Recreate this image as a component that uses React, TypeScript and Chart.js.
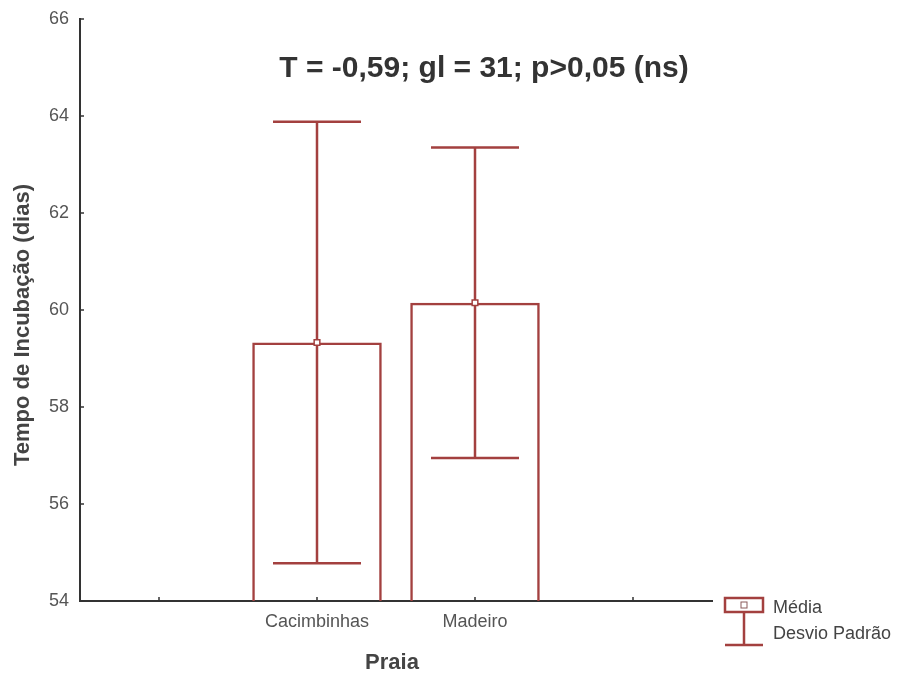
import { useEffect, useRef } from 'react';
import { Chart, registerables } from 'chart.js';
Chart.register(...registerables);

const categories = ['', 'Cacimbinhas', 'Madeiro', ''];
const means = [null, 59.33, 60.15, null];
const sds = [null, 4.55, 3.2, null];
const yMin = 54;
const yMax = 66;
const yStep = 2;
const titleText = 'T = -0,59; gl = 31; p>0,05 (ns)';
const xTitle = 'Praia';
const yTitle = 'Tempo de Incubação (dias)';
const legendLabels = ['Média', 'Desvio Padrão'];

const RED = '#a3403f';
const AXIS = '#333333';
const FONT = '"Liberation Sans", Arial, sans-serif';

const decorPlugin = {
  id: 'decor',
  beforeDatasetsDraw(chart: any) {
    const ctx = chart.ctx;
    const xs = chart.scales.x;
    const ys = chart.scales.y;
    ctx.save();
    ctx.strokeStyle = RED;
    ctx.lineWidth = 2.5;
    means.forEach((m, i) => {
      if (m == null || sds[i] == null) return;
      const x = xs.getPixelForValue(i);
      const yT = ys.getPixelForValue(m + (sds[i] as number));
      const yB = ys.getPixelForValue(m - (sds[i] as number));
      const half = 44;
      ctx.beginPath();
      ctx.moveTo(x, yT);
      ctx.lineTo(x, yB);
      ctx.moveTo(x - half, yT);
      ctx.lineTo(x + half, yT);
      ctx.moveTo(x - half, yB);
      ctx.lineTo(x + half, yB);
      ctx.stroke();
    });
    ctx.restore();
  },
  afterDraw(chart: any) {
    const ctx = chart.ctx;
    const ca = chart.chartArea;
    const xs = chart.scales.x;
    const ys = chart.scales.y;
    ctx.save();
    // inward tick marks
    ctx.strokeStyle = AXIS;
    ctx.lineWidth = 1.5;
    ctx.beginPath();
    for (let v = yMin; v <= yMax; v += yStep) {
      const y = ys.getPixelForValue(v);
      ctx.moveTo(ca.left, y);
      ctx.lineTo(ca.left + 4, y);
    }
    categories.forEach((_, i) => {
      const x = xs.getPixelForValue(i);
      ctx.moveTo(x, ca.bottom);
      ctx.lineTo(x, ca.bottom - 4);
    });
    ctx.stroke();

    // title
    ctx.fillStyle = '#333333';
    ctx.font = 'bold 30px ' + FONT;
    ctx.textAlign = 'center';
    ctx.textBaseline = 'middle';
    ctx.fillText(titleText, ca.left + 404, ca.top + 50);

    // axis titles
    ctx.fillStyle = '#444444';
    ctx.font = 'bold 22px ' + FONT;
    ctx.fillText(xTitle, ca.left + 312, ca.bottom + 62);
    ctx.save();
    ctx.translate(23, ca.top + 306);
    ctx.rotate(-Math.PI / 2);
    ctx.font = 'bold 22px ' + FONT;
    ctx.fillText(yTitle, 0, 0);
    ctx.restore();

    // legend
    const lx = ca.right + 13;
    const lw = 38;
    const ly = ca.bottom - 3;
    ctx.strokeStyle = RED;
    ctx.lineWidth = 2.5;
    ctx.strokeRect(lx, ly, lw, 14);
    ctx.beginPath();
    ctx.moveTo(lx + lw / 2, ly + 14);
    ctx.lineTo(lx + lw / 2, ly + 47);
    ctx.moveTo(lx, ly + 47);
    ctx.lineTo(lx + lw, ly + 47);
    ctx.stroke();
    ctx.lineWidth = 1;
    ctx.strokeStyle = '#8a5a5a';
    ctx.strokeRect(lx + lw / 2 - 3, ly + 4, 6, 6);
    ctx.fillStyle = '#444444';
    ctx.font = '18px ' + FONT;
    ctx.textAlign = 'left';
    ctx.fillText(legendLabels[0], lx + 48, ly + 10);
    ctx.fillText(legendLabels[1], lx + 48, ly + 36);
    ctx.restore();
  },
};

export default function App() {
  const ref = useRef<HTMLCanvasElement | null>(null);
  useEffect(() => {
    if (!ref.current) return;
    const chart = new Chart(ref.current, {
      type: 'bar',
      data: {
        labels: categories,
        datasets: [
          {
            type: 'line' as any,
            data: means as any,
            showLine: false,
            pointStyle: 'rect',
            pointRadius: 4,
            pointBackgroundColor: '#ffffff',
            pointBorderColor: RED,
            pointBorderWidth: 1.5,
            order: 0,
          } as any,
          {
            type: 'bar',
            data: means as any,
            backgroundColor: 'rgba(255,255,255,0)',
            borderColor: RED,
            borderWidth: 2.5,
            barPercentage: 0.82,
            categoryPercentage: 1,
            order: 1,
          } as any,
        ],
      },
      options: {
        animation: false,
        responsive: true,
        maintainAspectRatio: false,
        layout: { padding: { top: 19, right: 204, left: 0, bottom: 0 } },
        plugins: { legend: { display: false }, tooltip: { enabled: false } },
        scales: {
          x: {
            offset: true,
            grid: { display: false },
            border: { display: true, color: AXIS, width: 2 },
            ticks: {
              color: '#555555',
              padding: 2,
              font: { family: FONT, size: 18 },
              maxRotation: 0,
              autoSkip: false,
            },
            afterFit: (s: any) => {
              s.height = 76;
            },
          },
          y: {
            min: yMin,
            max: yMax,
            grid: { display: false },
            border: { display: true, color: AXIS, width: 2 },
            ticks: {
              stepSize: yStep,
              color: '#555555',
              padding: 3,
              font: { family: FONT, size: 18 },
            },
            afterFit: (s: any) => {
              s.width = 80;
            },
          },
        },
      },
      plugins: [decorPlugin],
    });
    return () => chart.destroy();
  }, []);
  return (
    <div style={{ position: 'absolute', left: 0, top: 0, width: 916, height: 677, background: '#fff' }}>
      <canvas ref={ref} />
    </div>
  );
}
